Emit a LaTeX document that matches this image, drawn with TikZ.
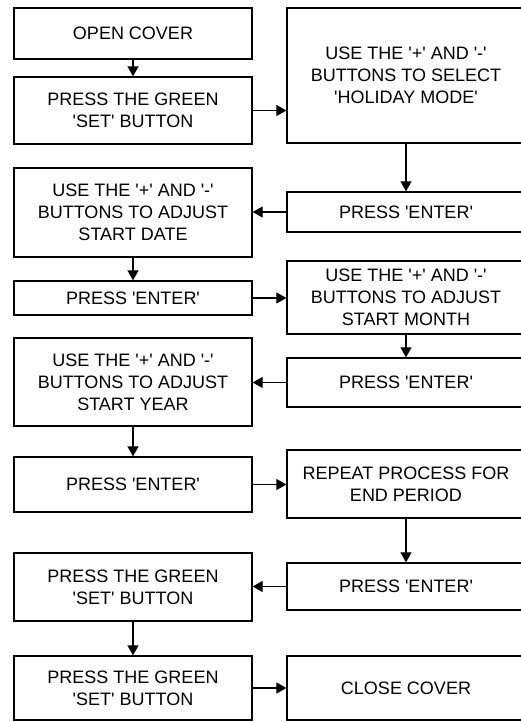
\documentclass[tikz,border=0pt]{standalone}
\usepackage{fontspec}
\setmainfont{Liberation Sans}
\usetikzlibrary{arrows.meta}
\newcommand\sq{\textquotesingle}
\tikzset{box/.style={draw,line width=1.3pt,minimum width=238pt,inner sep=0pt,align=center,font=\fontsize{18}{22}\selectfont},
flow/.style={-{Triangle[length=10pt,width=11pt]},line width=1.1pt}}

\begin{document}
\begin{tikzpicture}[x=1pt,y=-1pt]
\useasboundingbox (0,0) rectangle (520,722);
\node[box,minimum height=51pt] (l1) at (133,33.5) {OPEN COVER};
\node[box,minimum height=67pt] (l2) at (133,110.5) {PRESS THE GREEN\\\sq SET\sq{} BUTTON};
\node[box,minimum height=89pt] (l3) at (133,212.5) {USE THE \sq+\sq{} AND \sq-\sq\\BUTTONS TO ADJUST\\START DATE};
\node[box,minimum height=34pt] (l4) at (133,298) {PRESS \sq ENTER\sq};
\node[box,minimum height=88pt] (l5) at (133,382) {USE THE \sq+\sq{} AND \sq-\sq\\BUTTONS TO ADJUST\\START YEAR};
\node[box,minimum height=55pt] (l6) at (133,484.5) {PRESS \sq ENTER\sq};
\node[box,minimum height=68pt] (l7) at (133,587) {PRESS THE GREEN\\\sq SET\sq{} BUTTON};
\node[box,minimum height=64pt] (l8) at (133,688) {PRESS THE GREEN\\\sq SET\sq{} BUTTON};
\node[box,minimum height=135pt] (r1) at (406,75.5) {USE THE \sq+\sq{} AND \sq-\sq\\BUTTONS TO SELECT\\\sq HOLIDAY MODE\sq};
\node[box,minimum height=40pt] (r2) at (406,212) {PRESS \sq ENTER\sq};
\node[box,minimum height=73pt] (r3) at (406,297.5) {USE THE \sq+\sq{} AND \sq-\sq\\BUTTONS TO ADJUST\\START MONTH};
\node[box,minimum height=49pt] (r4) at (406,382.5) {PRESS \sq ENTER\sq};
\node[box,minimum height=68pt] (r5) at (406,484) {REPEAT PROCESS FOR\\END PERIOD};
\node[box,minimum height=47pt] (r6) at (406,586.5) {PRESS \sq ENTER\sq};
\node[box,minimum height=64pt] (r7) at (406,688) {CLOSE COVER};
\draw[flow] (l1) -- (l2);
\draw[flow] (l2.east) -- (l2.east -| r1.west);
\draw[flow] (r1) -- (r2);
\draw[flow] (r2.west) -- (r2.west -| l3.east);
\draw[flow] (l3) -- (l4);
\draw[flow] (l4.east) -- (l4.east -| r3.west);
\draw[flow] (r3) -- (r4);
\draw[flow] (r4.west) -- (r4.west -| l5.east);
\draw[flow] (l5) -- (l6);
\draw[flow] (l6.east) -- (l6.east -| r5.west);
\draw[flow] (r5) -- (r6);
\draw[flow] (r6.west) -- (r6.west -| l7.east);
\draw[flow] (l7) -- (l8);
\draw[flow] (l8.east) -- (l8.east -| r7.west);
\end{tikzpicture}
\end{document}
